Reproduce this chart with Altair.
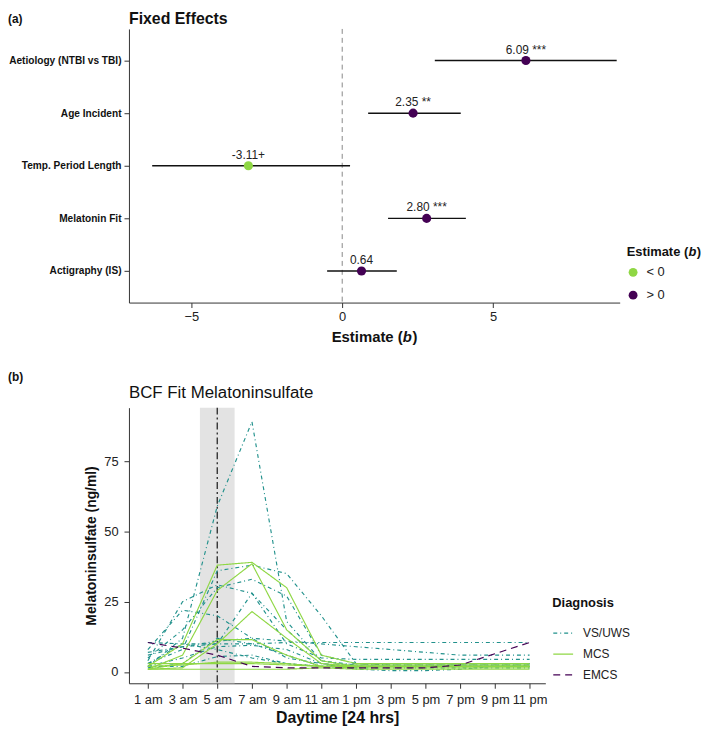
import altair as alt
import pandas as pd

# ---------------- Panel (a): fixed effects ----------------
terms = ["Aetiology (NTBI vs TBI)", "Age Incident", "Temp. Period Length",
         "Melatonin Fit", "Actigraphy (IS)"]
estimates = [6.09, 2.35, -3.11, 2.80, 0.64]
ci_low = [3.07, 0.86, -6.30, 1.52, -0.50]
ci_high = [9.10, 3.93, 0.26, 4.10, 1.81]
est_labels = ["6.09 ***", "2.35 **", "-3.11+", "2.80 ***", "0.64"]
sign_levels = ["< 0", "> 0"]
x_ticks_a = [-5, 0, 5]
zero_line = [0]

# ---------------- Panel (b): melatonin sulfate curves ----------------
hours = [1, 3, 5, 7, 9, 11, 13, 15, 17, 19, 21, 23]
y_ticks_b = [0, 25, 50, 75]
shade_start = [4]
shade_end = [6]
marker_hour = [5]
diagnoses = ["VS/UWS", "MCS", "EMCS"]

vs1 = [2, 12, 59, 89, 18, 4, 2.5, 2.5, 2.5, 2.5, 2.5, 2.5]
vs2 = [10.5, 10, 10, 10, 10.5, 10.5, 10.5, 10.5, 10.5, 10.5, 10.5, 10.5]
vs3 = [7, 9, 11, 12, 11, 10, 9, 8, 7, 6, 6, 6]
vs4 = [4, 25, 31, 28, 10, 5, 4.5, 4.5, 4.5, 4.5, 4.5, 4.5]
vs5 = [3, 8, 36, 38, 35, 20, 3, 2.5, 2.5, 2.5, 2.5, 2.5]
vs6 = [8, 22, 20, 12, 5, 3, 2, 2, 2, 2, 2, 2]
vs7 = [2, 5, 9, 9.5, 8, 3, 1, 0.5, 0.5, 1, 2, 2]
vs8 = [6, 9, 10, 28, 15, 4, 2, 2, 2, 2, 2, 2]
vs9 = [3, 10, 8, 5, 3, 2, 2, 2, 2, 2, 2, 2]
vs10 = [1.5, 3, 12, 10, 6, 2, 1.5, 1.5, 1.5, 1.5, 1.5, 1.5]
vs11 = [5, 15, 30, 33, 27, 6, 3, 3, 3, 3, 3, 3]
vs12 = [2, 2, 5.5, 6, 3, 2, 3, 3, 3, 3, 3, 3]

mcs1 = [2, 10, 38, 39, 30, 6, 3, 3, 3, 3, 3, 3]
mcs2 = [1, 6, 29, 38.5, 15, 4, 2, 2, 2, 2, 2, 2]
mcs3 = [1, 1.5, 10, 21.5, 12, 3, 2, 2, 2, 2, 2, 2]
mcs4 = [1, 3, 11.5, 11.5, 6, 2, 1.5, 1.5, 1.5, 1.5, 1.5, 1.5]
mcs5 = [2, 2.5, 3.5, 3.5, 3, 2, 2.5, 2.5, 2.5, 2.5, 2.5, 2.5]
mcs6 = [1, 1, 1, 1, 1, 1.5, 1, 1, 1, 1, 1, 1]
mcs7 = [3, 3, 3, 3, 2.5, 2, 2, 2, 2, 2, 2, 2]

emcs1 = [10.5, 8.5, 6, 2, 1.5, 1.5, 1.5, 1.5, 1.5, 2.5, 6.5, 10.5]

series_groups = {
    "VS/UWS": [vs1, vs2, vs3, vs4, vs5, vs6, vs7, vs8, vs9, vs10, vs11, vs12],
    "MCS": [mcs1, mcs2, mcs3, mcs4, mcs5, mcs6, mcs7],
    "EMCS": [emcs1],
}

# ---------------- styling ----------------
GREEN = "#8FD744"
PURPLE = "#440154"
TEAL = "#21918C"
FONT = "Liberation Sans"

# ---------------- build tables ----------------
fe = pd.DataFrame({"term": terms, "est": estimates, "lo": ci_low,
                   "hi": ci_high, "label": est_labels})
fe["sign"] = [sign_levels[0] if e < 0 else sign_levels[1] for e in estimates]

rows = []
for diag, lst in series_groups.items():
    for i, vals in enumerate(lst):
        for h, v in zip(hours, vals):
            rows.append({"series": f"{diag}-{i}", "diagnosis": diag, "hour": h, "value": v})
mel = pd.DataFrame(rows)

one = pd.DataFrame({"k": [0]})


def note(txt, x, y, size, weight="normal", style="normal", align="left", color="#111"):
    return alt.Chart(one).mark_text(
        x=x, y=y, fontSize=size, fontWeight=weight, fontStyle=style,
        align=align, baseline="middle", color=color, font=FONT
    ).encode(text=alt.value(txt))


# ---------------- panel (a) ----------------
W1, H1 = 495, 276
xa_scale = alt.Scale(domain=[-7.07, 9.2], nice=False, zero=False)
xa_axis = alt.Axis(values=x_ticks_a, title=None, labelFontSize=13, tickSize=5,
                   labelPadding=3, labelFlush=False)
ya = alt.Y("term:N", sort=terms, scale=alt.Scale(type="point", padding=0.6),
           axis=alt.Axis(title=None, labelFontWeight="bold", labelFontSize=10.2,
                         tickSize=5, labelPadding=3, labelColor="#111"))

zero_df = pd.DataFrame({"zero": zero_line})
zero_rule = alt.Chart(zero_df).mark_rule(color="#888888", strokeDash=[5, 4], strokeWidth=1).encode(
    x=alt.X("zero:Q", scale=xa_scale, axis=xa_axis)
)
ci = alt.Chart(fe).mark_rule(color="#111111", strokeWidth=1.5).encode(
    x=alt.X("lo:Q", scale=xa_scale, axis=xa_axis), x2="hi:Q", y=ya
)
pts = alt.Chart(fe).mark_circle(size=85, opacity=1).encode(
    x=alt.X("est:Q", scale=xa_scale, axis=xa_axis), y=ya,
    color=alt.Color("sign:N", scale=alt.Scale(domain=sign_levels, range=[GREEN, PURPLE]),
                    legend=alt.Legend(title=None, orient="none", legendX=502, legendY=239,
                                      symbolType="circle", symbolSize=80, labelFontSize=13,
                                      rowPadding=9, labelOffset=7, labelColor="#222"))
)
lbl = alt.Chart(fe).mark_text(dy=-11, fontSize=12, color="#222", font=FONT).encode(
    x=alt.X("est:Q", scale=xa_scale, axis=xa_axis), y=ya, text="label:N"
)

cx = W1 / 2
LT_Y = 225
top = alt.layer(
    zero_rule, ci, pts, lbl,
    note("(a)", -122, -10, 12, weight="bold"),
    note("Fixed Effects", 0, -10, 16, weight="bold"),
    note("Estimate (", cx - 43, H1 + 35, 15, weight="bold"),
    note("b", cx + 28.7, H1 + 35, 15, weight="bold", style="italic"),
    note(")", cx + 38.4, H1 + 35, 15, weight="bold"),
    note("Estimate (", 502, LT_Y, 13, weight="bold"),
    note("b", 564.3, LT_Y, 13, weight="bold", style="italic"),
    note(")", 572.6, LT_Y, 13, weight="bold"),
).properties(width=W1, height=H1)

# ---------------- panel (b) ----------------
W2, H2 = 420, 278
xb_scale = alt.Scale(domain=[-0.09, 23.91], nice=False, zero=False)
xb_axis = alt.Axis(values=hours,
                   labelExpr="datum.value < 12 ? datum.value + ' am' : (datum.value - 12) + ' pm'",
                   title="Daytime [24 hrs]", titleFontSize=16, titleFontWeight="bold",
                   titlePadding=4, labelFontSize=13, labelPadding=5, tickSize=5,
                   labelOverlap=False, labelFlush=False)
yb_scale = alt.Scale(domain=[-4, 94], nice=False, zero=False)
yb_axis = alt.Axis(values=y_ticks_b, title="Melatoninsulfate (ng/ml)", titleFontSize=14,
                   titleFontWeight="bold", titlePadding=5, labelPadding=6,
                   labelFontSize=13, tickSize=5)

shade_df = pd.DataFrame({"start": shade_start, "end": shade_end})
shade = alt.Chart(shade_df).mark_rect(color="#E3E3E3").encode(
    x=alt.X("start:Q", scale=xb_scale, axis=xb_axis), x2="end:Q",
    y=alt.Y(datum=94, scale=yb_scale, axis=yb_axis), y2=alt.Y2(datum=-4)
)
mark_df = pd.DataFrame({"mark": marker_hour})
vline = alt.Chart(mark_df).mark_rule(color="#333333", strokeDash=[7, 3, 2, 3], strokeWidth=1.4).encode(
    x=alt.X("mark:Q", scale=xb_scale, axis=xb_axis)
)

diag_legend = alt.Legend(title="Diagnosis", orient="none", legendX=427, legendY=191.5,
                         titleFontSize=13, titleFontWeight="bold", titlePadding=12,
                         labelFontSize=12, labelColor="#222", symbolType="stroke",
                         symbolStrokeWidth=1.3, symbolSize=400, rowPadding=4, labelOffset=9)
lines = alt.Chart(mel).mark_line(strokeWidth=1.15).encode(
    x=alt.X("hour:Q", scale=xb_scale, axis=xb_axis),
    y=alt.Y("value:Q", scale=yb_scale, axis=yb_axis),
    detail="series:N",
    order="hour:Q",
    color=alt.Color("diagnosis:N", scale=alt.Scale(domain=diagnoses, range=[TEAL, GREEN, PURPLE]),
                    legend=diag_legend),
    strokeDash=alt.StrokeDash("diagnosis:N",
                              scale=alt.Scale(domain=diagnoses, range=[[4, 3, 1, 3], [1, 0], [7, 5]]),
                              legend=diag_legend),
)

bottom = alt.layer(
    shade, vline, lines,
    note("(b)", -122, -31, 12, weight="bold"),
    note("BCF Fit Melatoninsulfate", 0, -15, 17),
).properties(width=W2, height=H2)

chart = alt.vconcat(top, bottom, spacing=26).resolve_scale(
    color="independent", strokeDash="independent", x="independent", y="independent"
).resolve_legend(color="independent", strokeDash="independent").properties(padding=0).configure(
    font=FONT
).configure_view(stroke=None).configure_axis(
    grid=False, domainColor="#333333", tickColor="#333333", labelColor="#222222",
    titleColor="#111111", domainWidth=1, tickWidth=1, labelFont=FONT, titleFont=FONT
).configure_legend(labelFont=FONT, titleFont=FONT, titleColor="#111111")

chart.save("out.html", embed_options={"renderer": "svg", "actions": False})
